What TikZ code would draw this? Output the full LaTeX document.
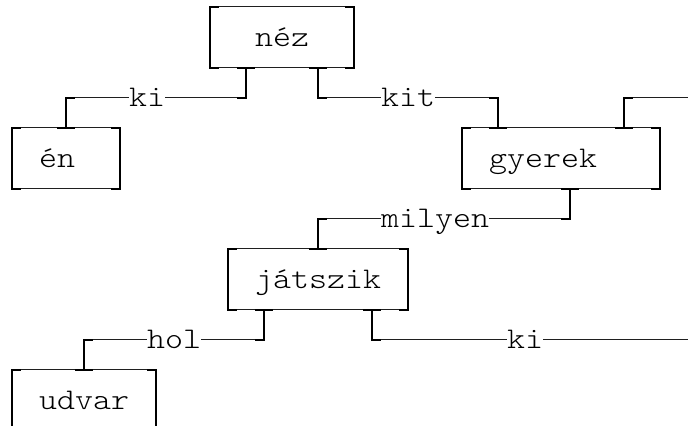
\documentclass[tikz,border=0pt]{standalone}
\usepackage{fontspec}
\usepackage{graphicx}
\usetikzlibrary{calc}
\newcommand\mt[1]{\scalebox{1.142857}[1]{\fontsize{22.5pt}{22.5pt}\ttfamily\fontseries{l}\selectfont #1}}
\tikzset{
  thinl/.style={line width=0.75pt, black!88},
  thickl/.style={line width=1.5pt, black, line join=miter},
  boxnode/.style={inner sep=0pt, minimum height=45.375pt, text height=13.5pt, text depth=0pt},
  lbl/.style={inner sep=0pt, text height=13.5pt, text depth=0pt},
}
\newcommand\junc[3]{%
  \draw[thickl] ($(#1)+(-0.5,0)$) -- ($(#1)+(0.5,0)$);
  \draw[thickl] (#1) |- ($(#1 |- #2)+(#3,0)$);
}
\begin{document}
\begin{tikzpicture}[x=13.5pt,y=-22.6875pt]
\useasboundingbox (-0.666667,-0.231405) rectangle (37.555556,13.818182);
\clip (-0.666667,-0.231405) rectangle (37.555556,13.818182);

% boxes
\node[boxnode, minimum width=108pt]   (nez)     at (15,1)   {\mt{\ \ néz\ \ }};
\node[boxnode, minimum width=81pt]    (en)      at (3,5)    {\mt{\ én\ \ }};
\node[boxnode, minimum width=148.5pt] (gyerek)  at (30.5,5) {\mt{\ gyerek\ \ \ }};
\node[boxnode, minimum width=135pt]   (jatszik) at (17,9)   {\mt{\ játszik\ }};
\node[boxnode, minimum width=108pt]   (udvar)   at (4,13)   {\mt{\ udvar\ }};

% edge labels
\node[lbl] (lki)     at (7.5,3)  {\mt{ki}};
\node[lbl] (lkit)    at (22,3)   {\mt{kit}};
\node[lbl] (lmilyen) at (23.5,7) {\mt{milyen}};
\node[lbl] (lhol)    at (9,11)   {\mt{hol}};
\node[lbl] (lki2)    at (28.5,11){\mt{ki}};
\coordinate (e1) at (38,3);
\coordinate (e2) at (38,11);

% box frames
\foreach \n in {nez,en,gyerek,jatszik,udvar}{
  \draw[thinl] (\n.north west) rectangle (\n.south east);
  \draw[thickl] ($(\n.north west)+(0.5,0)$) -- (\n.north west) -- (\n.south west) -- ++(0.5,0);
  \draw[thickl] ($(\n.north east)+(-0.5,0)$) -- (\n.north east) -- (\n.south east) -- ++(-0.5,0);
}

% attachment points
\coordinate (nezb1) at ($(nez.south west)+(2,0)$);
\coordinate (nezb2) at ($(nez.south west)+(6,0)$);
\coordinate (ent)   at ($(en.north west)+(3,0)$);
\coordinate (gyt1)  at ($(gyerek.north west)+(2,0)$);
\coordinate (gyt2)  at ($(gyerek.north west)+(9,0)$);
\coordinate (gyb)   at ($(gyerek.south west)+(6,0)$);
\coordinate (jat)   at ($(jatszik.north west)+(5,0)$);
\coordinate (jab1)  at ($(jatszik.south west)+(2,0)$);
\coordinate (jab2)  at ($(jatszik.south west)+(8,0)$);
\coordinate (udt)   at ($(udvar.north west)+(4,0)$);

% connectors (thin horizontal runs)
\draw[thinl] (nezb1) |- (lki.east);
\draw[thinl] (lki.west) -| (ent);
\draw[thinl] (nezb2) |- (lkit.west);
\draw[thinl] (lkit.east) -| (gyt1);
\draw[thinl] (gyt2) |- (e1);
\draw[thinl] (gyb) |- (lmilyen.east);
\draw[thinl] (lmilyen.west) -| (jat);
\draw[thinl] (jab1) |- (lhol.east);
\draw[thinl] (lhol.west) -| (udt);
\draw[thinl] (jab2) |- (lki2.west);
\draw[thinl] (lki2.east) -- (e2);

% thick vertical parts and junctions
\junc{nezb1}{lki.east}{-0.5}
\junc{ent}{lki.west}{0.5}
\junc{nezb2}{lkit.west}{0.5}
\junc{gyt1}{lkit.east}{-0.5}
\junc{gyt2}{e1}{0.5}
\junc{gyb}{lmilyen.east}{-0.5}
\junc{jat}{lmilyen.west}{0.5}
\junc{jab1}{lhol.east}{-0.5}
\junc{udt}{lhol.west}{0.5}
\junc{jab2}{lki2.west}{0.5}
\end{tikzpicture}
\end{document}
